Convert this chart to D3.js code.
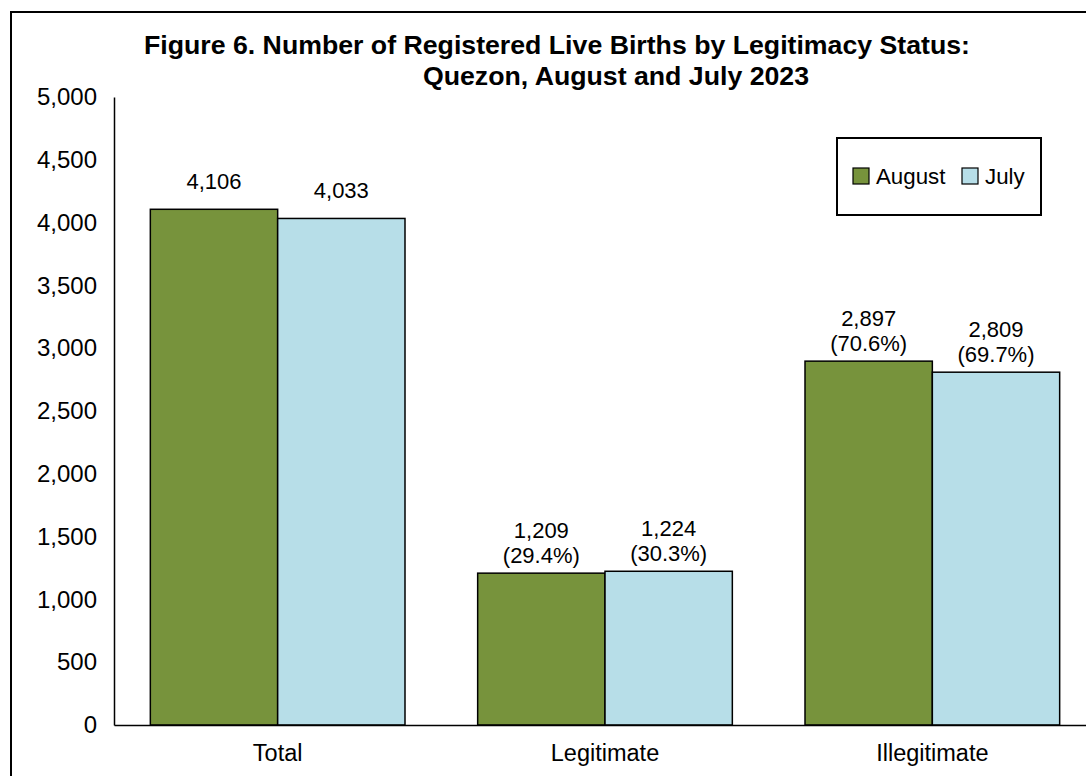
<!DOCTYPE html>
<html>
<head>
<meta charset="utf-8">
<script src="https://cdn.jsdelivr.net/npm/d3@7"></script>
<style>
  html, body { margin: 0; padding: 0; background: #fff; }
  svg { display: block; font-family: "Liberation Sans", Arial, sans-serif; }
</style>
</head>
<body>
<div id="container"></div>
<script>
// chart data
const categories = ["Total", "Legitimate", "Illegitimate"];
const seriesNames = ["August", "July"];
const augustValues = [4106, 1209, 2897];
const julyValues = [4033, 1224, 2809];
const augustPct = [null, "29.4%", "70.6%"];
const julyPct = [null, "30.3%", "69.7%"];
const yTicks = [0, 500, 1000, 1500, 2000, 2500, 3000, 3500, 4000, 4500, 5000];

const colors = {August: "#77933c", July: "#b7dee8"};

const W = 1086, H = 776;
const svg = d3.select("#container").append("svg")
    .attr("width", W)
    .attr("height", H);

svg.append("rect")
    .attr("width", W).attr("height", H)
    .attr("fill", "#fff");

// outer frame (cropped on right/bottom in the original)
svg.append("rect")
    .attr("x", 11).attr("y", 12)
    .attr("width", 1200).attr("height", 900)
    .attr("fill", "none")
    .attr("stroke", "#000")
    .attr("stroke-width", 2);

// title
const title = svg.append("g")
    .attr("font-weight", "bold")
    .attr("font-size", 26.7)
    .attr("fill", "#000")
    .attr("text-anchor", "middle");
title.append("text").attr("x", 557).attr("y", 53.5)
    .text("Figure 6. Number of Registered Live Births by Legitimacy Status:");
title.append("text").attr("x", 616).attr("y", 84.5)
    .text("Quezon, August and July 2023");

const plot = {left: 114, right: 1096, top: 97, bottom: 725};

const x = d3.scaleBand()
    .domain(categories)
    .range([plot.left, plot.right])
    .paddingInner(0.222)
    .paddingOuter(0.111);

const xs = d3.scaleBand()
    .domain(seriesNames)
    .range([0, x.bandwidth()]);

const y = d3.scaleLinear()
    .domain([0, 5000])
    .range([plot.bottom, plot.top]);

// bars
const rows = categories.map((c, i) => ({
    cat: c,
    vals: [
        {s: "August", v: augustValues[i], pct: augustPct[i]},
        {s: "July", v: julyValues[i], pct: julyPct[i]}
    ]
}));

const groups = svg.append("g").selectAll("g")
    .data(rows)
    .join("g")
    .attr("transform", d => `translate(${x(d.cat)},0)`);

groups.selectAll("rect")
    .data(d => d.vals)
    .join("rect")
    .attr("x", d => xs(d.s))
    .attr("y", d => y(d.v))
    .attr("width", xs.bandwidth())
    .attr("height", d => y(0) - y(d.v))
    .attr("fill", d => colors[d.s])
    .attr("stroke", "#000")
    .attr("stroke-width", 1.5);

// data labels
const lbl = groups.selectAll("text")
    .data(d => d.vals)
    .join("text")
    .attr("text-anchor", "middle")
    .attr("font-size", 22)
    .attr("fill", "#000");

lbl.each(function (d) {
    const t = d3.select(this);
    const cx = xs(d.s) + xs.bandwidth() / 2;
    const top = y(d.v);
    if (d.pct) {
        t.append("tspan").attr("x", cx).attr("y", top - 35).text(d3.format(",")(d.v));
        t.append("tspan").attr("x", cx).attr("y", top - 10).text(`(${d.pct})`);
    } else {
        t.append("tspan").attr("x", cx).attr("y", top - 20).text(d3.format(",")(d.v));
    }
});

// y axis
const yAxis = svg.append("g")
    .attr("transform", `translate(${plot.left},0)`)
    .call(d3.axisLeft(y).tickValues(yTicks).tickFormat(d3.format(",")).tickSize(0).tickPadding(17));
yAxis.select(".domain").attr("stroke", "#000").attr("stroke-width", 1.5);
yAxis.selectAll("text")
    .attr("font-size", 24)
    .attr("font-family", "Liberation Sans, Arial, sans-serif")
    .attr("fill", "#000");

// x axis
const xAxis = svg.append("g")
    .attr("transform", `translate(0,${plot.bottom})`)
    .call(d3.axisBottom(x).tickSize(0).tickPadding(19));
xAxis.select(".domain").attr("stroke", "#000").attr("stroke-width", 1.5);
xAxis.selectAll("text")
    .attr("font-size", 23.5)
    .attr("font-family", "Liberation Sans, Arial, sans-serif")
    .attr("fill", "#000");

// legend
const legend = svg.append("g");
legend.append("rect")
    .attr("x", 837).attr("y", 138)
    .attr("width", 204).attr("height", 77)
    .attr("fill", "#fff")
    .attr("stroke", "#000")
    .attr("stroke-width", 2);

const legendX = {August: 853, July: 962};
const items = legend.selectAll("g.item")
    .data(seriesNames)
    .join("g")
    .attr("class", "item")
    .attr("transform", d => `translate(${legendX[d]},168)`);
items.append("rect")
    .attr("width", 16).attr("height", 16)
    .attr("fill", d => colors[d])
    .attr("stroke", "#000")
    .attr("stroke-width", 1.2);
items.append("text")
    .attr("x", 23).attr("y", 16)
    .attr("font-size", 22.3)
    .attr("fill", "#000")
    .text(d => d);
</script>
</body>
</html>
